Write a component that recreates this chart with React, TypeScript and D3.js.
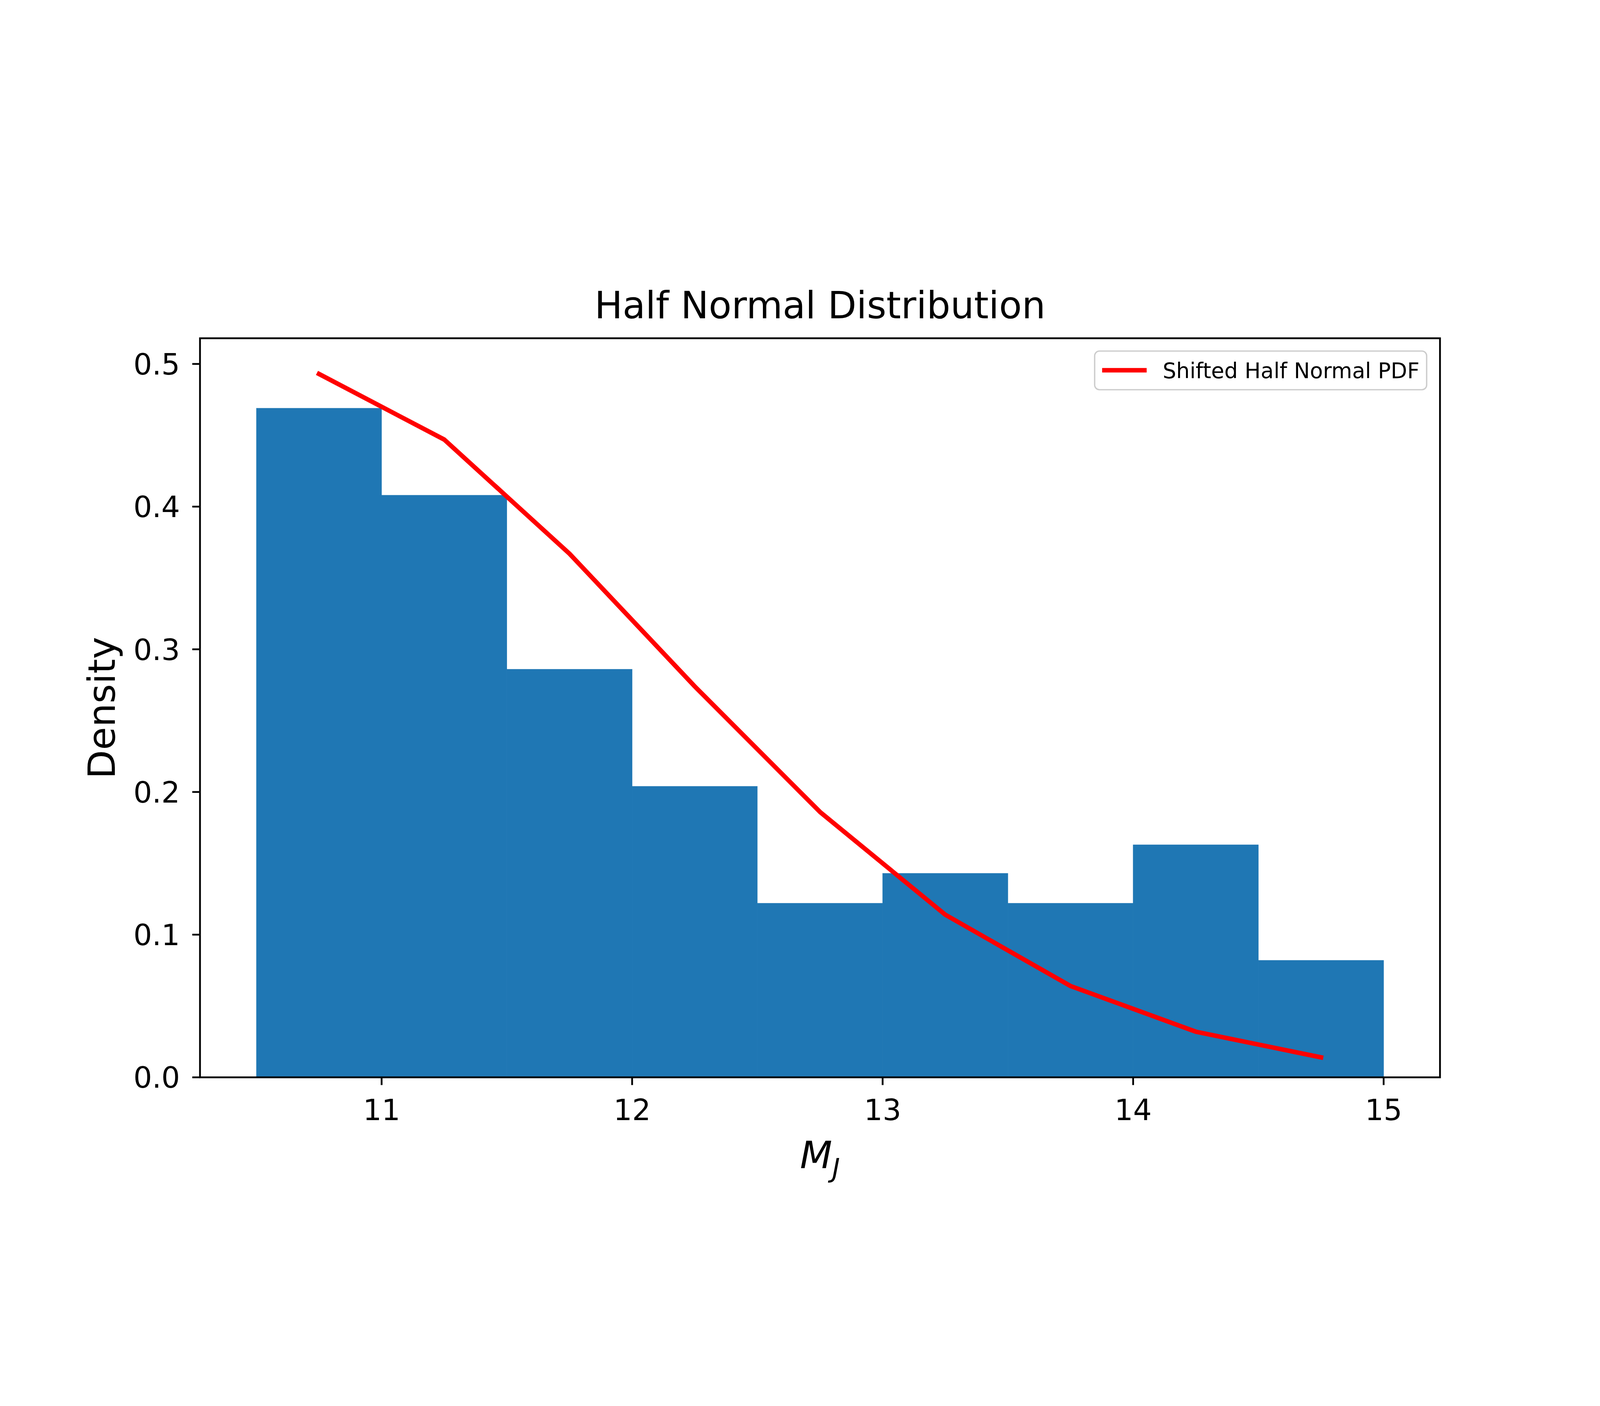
import * as d3 from 'd3'

const binEdges = [10.5, 11, 11.5, 12, 12.5, 13, 13.5, 14, 14.5, 15]
const density = [0.469, 0.408, 0.286, 0.204, 0.122, 0.143, 0.122, 0.163, 0.082]
const pdfX = [10.75, 11.25, 11.75, 12.25, 12.75, 13.25, 13.75, 14.25, 14.75]
const pdfY = [0.493, 0.447, 0.367, 0.274, 0.186, 0.114, 0.064, 0.032, 0.014]
const xTicks = [11, 12, 13, 14, 15]
const yTicks = [0, 0.1, 0.2, 0.3, 0.4, 0.5]

const W = 6000
const H = 3600
const m = { left: 750, right: 5400, top: 432, bottom: 3204 }
const font = 'DejaVu Sans'

export default function App() {
  const x = d3.scaleLinear().domain([10.275, 15.225]).range([m.left, m.right])
  const y = d3.scaleLinear().domain([0, 0.518]).range([m.bottom, m.top])
  const line = d3.line<number>().x((_, i) => x(pdfX[i])).y((d) => y(d))
  const lw = 6.7
  return (
    <svg viewBox={`0 0 ${W} ${H}`} style={{ position: 'fixed', left: 0, top: 0, width: '100vw', height: '100vh', display: 'block', background: '#fff' }} fontFamily={font}>
      {density.map((d, i) => (
        <rect key={i} x={x(binEdges[i])} y={y(d)} width={x(binEdges[i + 1]) - x(binEdges[i])}
          height={y(0) - y(d)} fill="#1f77b4" stroke="#1f77b4" strokeWidth={1} />
      ))}
      <path d={line(pdfY) ?? ''} fill="none" stroke="red" strokeWidth={17} strokeLinejoin="round" strokeLinecap="square" />
      <rect x={m.left} y={m.top} width={m.right - m.left} height={m.bottom - m.top} fill="none" stroke="#000" strokeWidth={lw} />
      {xTicks.map((t) => (
        <g key={t}>
          <line x1={x(t)} x2={x(t)} y1={m.bottom} y2={m.bottom + 29} stroke="#000" strokeWidth={lw} />
          <text x={x(t)} y={m.bottom + 160} fontSize={110} textAnchor="middle">{t}</text>
        </g>
      ))}
      {yTicks.map((t) => (
        <g key={t}>
          <line x1={m.left - 29} x2={m.left} y1={y(t)} y2={y(t)} stroke="#000" strokeWidth={lw} />
          <text x={m.left - 75} y={y(t)} dy="0.36em" fontSize={110} textAnchor="end">{t.toFixed(1)}</text>
        </g>
      ))}
      <text x={(m.left + m.right) / 2} y={m.top - 75} fontSize={140} textAnchor="middle">Half Normal Distribution</text>
      <text x={(m.left + m.right) / 2} y={m.bottom + 340} fontSize={140} textAnchor="middle" fontStyle="italic">
        M<tspan fontSize={98} dy={35}>J</tspan>
      </text>
      <text transform={`translate(${m.left - 320},${(m.top + m.bottom) / 2}) rotate(-90)`} fontSize={140} textAnchor="middle">Density</text>
      <g transform="translate(4105,480)">
        <rect width={1245} height={145} rx={18} fill="#fff" stroke="#ccc" strokeWidth={5} />
        <line x1={28} x2={195} y1={72} y2={72} stroke="red" strokeWidth={17} />
        <text x={255} y={72} dy="0.36em" fontSize={80}>Shifted Half Normal PDF</text>
      </g>
    </svg>
  )
}
